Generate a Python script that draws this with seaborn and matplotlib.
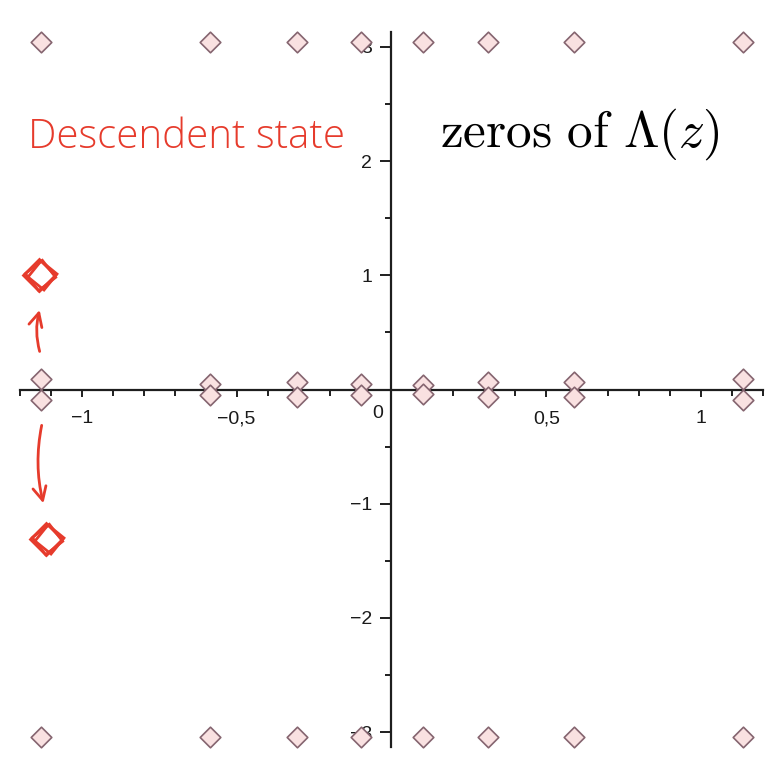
import numpy as np
import pandas as pd
import matplotlib
matplotlib.use("Agg")
import matplotlib.pyplot as plt
import seaborn as sns

# Real parts of the zeros (one column of zeros per value)
re_parts = [-1.132, -0.585, -0.305, -0.098, 0.102, 0.312, 0.589, 1.136]
# Small imaginary parts of the zeros near the real axis (+/-)
im_near = [0.090, 0.052, 0.062, 0.045, 0.040, 0.065, 0.062, 0.095]
# Large imaginary parts of the far zeros (+/-)
im_far = [3.04, 3.04, 3.04, 3.04, 3.04, 3.04, 3.04, 3.04]

x_tick_vals = [-1.0, -0.5, 0.5, 1.0]
x_tick_labels = ["\u22121", "\u22120,5", "0,5", "1"]
y_tick_vals = [-3, -2, -1, 1, 2, 3]
y_tick_labels = ["\u22123", "\u22122", "\u22121", "1", "2", "3"]

# Hand-drawn annotation: where the descendent zeros move to
desc_up = (-1.135, 1.00)
desc_down = (-1.112, -1.31)
arrow_up = ((-1.134, 0.31), (-1.134, 0.72))
arrow_down = ((-1.128, -0.29), (-1.122, -1.02))

rows = []
for r, a, b in zip(re_parts, im_near, im_far):
    for im in (a, -a, b, -b):
        rows.append({"re": r, "im": im})
zeros = pd.DataFrame(rows)

sns.set_style("white")
plt.rcParams["font.family"] = ["Liberation Sans", "DejaVu Sans"]
plt.rcParams["mathtext.fontset"] = "cm"

fig = plt.figure(figsize=(7.71, 7.63), dpi=100)
ax = fig.add_axes([0.0259, 0.021, 0.9637, 0.937])
ax.set_xlim(-1.2, 1.2)
ax.set_ylim(-3.13, 3.13)

axis_col = "#1e1e1e"
for side in ("top", "right"):
    ax.spines[side].set_visible(False)
for side in ("left", "bottom"):
    ax.spines[side].set_position("zero")
    ax.spines[side].set_color(axis_col)
    ax.spines[side].set_linewidth(1.6)

ax.set_xticks(x_tick_vals)
ax.set_xticklabels(x_tick_labels)
ax.set_xticks(np.round(np.arange(-1.2, 1.201, 0.1), 2), minor=True)
ax.set_yticks(y_tick_vals)
ax.set_yticklabels(y_tick_labels)
ax.set_yticks([-2.5, -1.5, -0.5, 0.5, 1.5, 2.5], minor=True)

ax.tick_params(which="both", bottom=True, left=True, top=False, right=False)
ax.tick_params(axis="x", which="major", direction="out", length=5, width=1.4,
               color=axis_col, labelsize=14, pad=10, labelcolor="#1a1a1a")
ax.tick_params(axis="x", which="minor", direction="out", length=4, width=1.4,
               color=axis_col)
ax.tick_params(axis="y", which="major", direction="out", length=8, width=1.4,
               color=axis_col, labelsize=14, pad=6, labelcolor="#1a1a1a")
ax.tick_params(axis="y", which="minor", direction="out", length=4, width=1.4,
               color=axis_col)
ax.annotate("0", xy=(0, 0), xytext=(-10, -17), textcoords="offset points",
            ha="center", va="center", fontsize=14, color="#1a1a1a")

sns.scatterplot(data=zeros, x="re", y="im", marker="D", s=110,
                color="#f9e1e1", edgecolor="#856570", linewidth=1.2,
                ax=ax, clip_on=False, zorder=3)
ax.set_xlabel("")
ax.set_ylabel("")

fig.text(440 / 771, 1 - 147 / 763, r"$\mathrm{zeros\ of\ }\Lambda(z)$",
         fontsize=37, ha="left", va="baseline", color="black")

red = "#e63b2c"
fig.text(28 / 771, 1 - 148 / 763, "Descendent state", fontsize=29,
         family=["Open Sans", "DejaVu Sans"], fontweight="light",
         color=red, ha="left", va="baseline")

for (px, py) in (desc_up, desc_down):
    for ang, dx, ms in ((-7, 0.0, 22), (6, 0.005, 21), (0, -0.004, 23)):
        ax.plot([px + dx], [py], marker=(4, 0, ang), markersize=ms,
                markerfacecolor="none", markeredgecolor=red,
                markeredgewidth=2.0, clip_on=False, zorder=4)

for (tail, head), rad in ((arrow_up, -0.15), (arrow_down, 0.12)):
    ax.annotate("", xy=head, xytext=tail,
                arrowprops=dict(arrowstyle="->", color=red, lw=2,
                                mutation_scale=24,
                                connectionstyle=f"arc3,rad={rad}"))

fig.savefig("out.png", dpi=100, facecolor="white")
